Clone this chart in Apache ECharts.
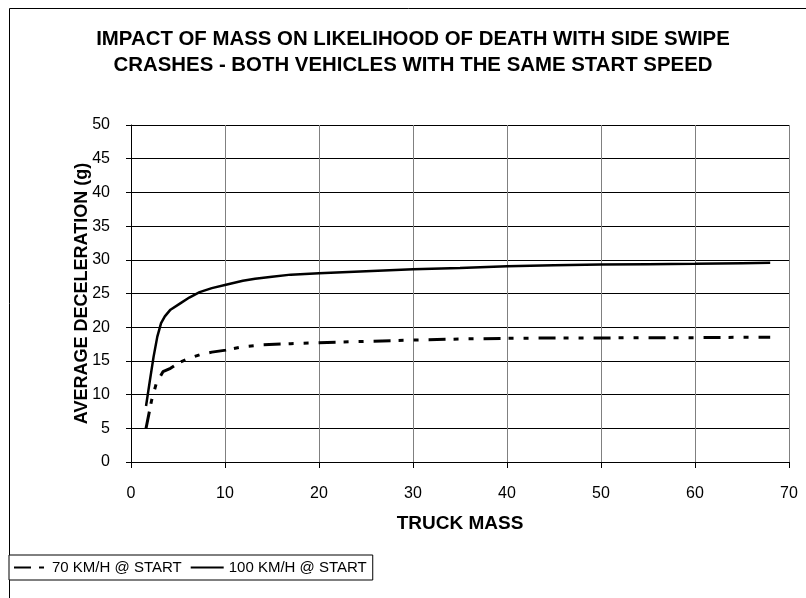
<!DOCTYPE html>
<html>
<head>
<meta charset="utf-8">
<script src="https://cdn.jsdelivr.net/npm/echarts@6/dist/echarts.min.js"></script>
<style>
html,body{margin:0;padding:0;background:#fff;}
#chart{width:806px;height:598px;}
</style>
</head>
<body>
<div id="chart"></div>
<script>
// ---- data ----
var titleLines = ['IMPACT OF MASS ON LIKELIHOOD OF DEATH WITH SIDE SWIPE', 'CRASHES - BOTH VEHICLES WITH THE SAME START SPEED'];
var xAxisName = 'TRUCK MASS';
var yAxisName = 'AVERAGE DECELERATION (g)';
var seriesNames = ['70 KM/H @ START', '100 KM/H @ START'];

// 70 km/h @ start (dash-dot-dot line)
var mass70 = [1.6, 2.2, 2.7, 3.4, 4.2, 5.2, 6.2, 7.3, 8.6, 10.1, 11.9, 14.1, 17, 20, 25, 30, 35, 40, 45, 50, 55, 60, 65, 68];
var decel70 = [5.0, 9.2, 11.7, 13.4, 13.9, 14.8, 15.4, 15.9, 16.3, 16.6, 17.1, 17.4, 17.55, 17.7, 17.9, 18.1, 18.25, 18.35, 18.4, 18.4, 18.45, 18.45, 18.5, 18.5];

// 100 km/h @ start (solid line)
var mass100 = [1.6, 2.0, 2.4, 2.8, 3.2, 3.6, 4.2, 5.2, 6.2, 7.3, 8.6, 10.1, 11.9, 13.2, 15.0, 17.0, 20, 25, 30, 35, 40, 45, 50, 55, 60, 65, 68];
var decel100 = [8.3, 12.0, 15.6, 18.6, 20.6, 21.6, 22.6, 23.5, 24.4, 25.2, 25.8, 26.3, 26.9, 27.2, 27.5, 27.8, 28.0, 28.3, 28.6, 28.8, 29.05, 29.2, 29.3, 29.35, 29.4, 29.5, 29.55];

function zip(xs, ys) {
  var out = [];
  for (var i = 0; i < xs.length; i++) out.push([xs[i], ys[i]]);
  return out;
}

var FONT = 'Liberation Sans, Arial, sans-serif';

var chart = echarts.init(document.getElementById('chart'), null, {renderer: 'canvas'});
chart.setOption({
  backgroundColor: '#fff',
  animation: false,
  title: {
    text: titleLines.join('\n'),
    left: 408,
    top: 21,
    textAlign: 'center',
    textStyle: {fontFamily: FONT, fontSize: 20.4, fontWeight: 'bold', color: '#000', lineHeight: 26}
  },
  graphic: [{
    type: 'rect',
    shape: {x: 9.5, y: 8.5, width: 1000, height: 1000},
    style: {fill: null, stroke: '#000', lineWidth: 1},
    z: -1,
    silent: true
  }],
  legend: {
    left: 9,
    top: 555,
    orient: 'horizontal',
    padding: [5, 6, 5, 4],
    itemGap: 8,
    itemWidth: 33,
    itemHeight: 14,
    backgroundColor: '#fff',
    borderColor: '#000',
    borderWidth: 1,
    borderRadius: 0,
    itemStyle: {opacity: 0},
    textStyle: {fontFamily: FONT, fontSize: 15, color: '#000'},
    data: seriesNames
  },
  grid: {left: 131, right: 17, top: 125, bottom: 136, containLabel: false},
  xAxis: {
    type: 'value',
    min: 0, max: 70, interval: 10,
    name: xAxisName,
    nameLocation: 'middle',
    nameGap: 52,
    nameMoveOverlap: false,
    nameTextStyle: {fontFamily: FONT, fontSize: 19, fontWeight: 'bold', color: '#000'},
    axisLine: {show: true, onZero: false, lineStyle: {color: '#000', width: 1}},
    axisTick: {show: true, inside: false, length: 6, lineStyle: {color: '#000'}},
    axisLabel: {fontFamily: FONT, fontSize: 16, color: '#000', margin: 24},
    splitLine: {show: true, lineStyle: {color: '#808080', width: 1}}
  },
  yAxis: {
    type: 'value',
    min: 0, max: 50, interval: 5,
    name: yAxisName,
    nameLocation: 'middle',
    nameGap: 40,
    nameMoveOverlap: false,
    nameRotate: 90,
    nameTextStyle: {fontFamily: FONT, fontSize: 18, fontWeight: 'bold', color: '#000'},
    axisLine: {show: true, lineStyle: {color: '#000', width: 1}},
    axisTick: {show: true, inside: false, length: 5, lineStyle: {color: '#000'}},
    axisLabel: {fontFamily: FONT, fontSize: 16, color: '#000', margin: 21},
    splitLine: {show: true, lineStyle: {color: '#000', width: 1}}
  },
  series: [{
    name: seriesNames[0],
    type: 'line',
    data: zip(mass70, decel70),
    symbol: 'none',
    smooth: false,
    color: '#000',
    lineStyle: {color: '#000', width: 3, type: [17, 8, 5, 10, 5, 10], cap: 'butt'}
  }, {
    name: seriesNames[1],
    type: 'line',
    data: zip(mass100, decel100),
    symbol: 'none',
    smooth: false,
    color: '#000',
    lineStyle: {color: '#000', width: 2.5, type: 'solid'}
  }]
});
</script>
</body>
</html>
